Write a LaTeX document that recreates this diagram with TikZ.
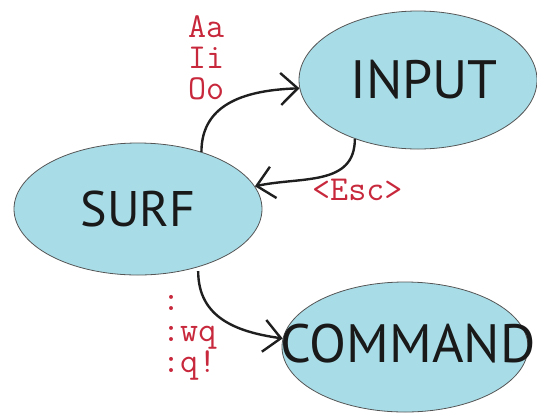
\documentclass[tikz,border=0pt]{standalone}
\usepackage{fontspec}
\setmainfont{PT Sans}
\usetikzlibrary{shapes.geometric,arrows.meta}
\definecolor{bub}{HTML}{A8DDE8}
\definecolor{lab}{HTML}{C8283C}
\definecolor{edge}{HTML}{555555}
\tikzset{
  state/.style={ellipse, draw=edge, line width=0.8pt, fill=bub, inner sep=0pt},
  stxt/.style={text=black!90, inner sep=0pt},
  arr/.style={line width=2.4pt, draw=black!88, -{Straight Barb[length=17pt,width=32pt,line width=2.4pt]}},
  keys/.style={text=lab, font=\ttfamily\fontsize{35}{31}\selectfont, align=left, inner sep=0pt}
}
\begin{document}
\begin{tikzpicture}[x=1pt,y=-1pt]
\useasboundingbox (0,0) rectangle (537,413);
\node[state, minimum width=248pt, minimum height=132pt,
  label={[stxt, font=\fontsize{50}{50}\selectfont]center:SURF}] (surf) at (138,209) {};
\node[state, minimum width=238pt, minimum height=138pt,
  label={[stxt, font=\fontsize{54}{54}\selectfont, xshift=6pt]center:INPUT}] (input) at (418,80) {};
\node[state, minimum width=246pt, minimum height=130pt,
  label={[stxt, font=\fontsize{54}{54}\selectfont, xshift=3pt, yshift=3pt]center:COMMAND}] (command) at (405,347) {};
\draw[arr] (surf.42) to[out=90,in=182,looseness=1.1] (input.184);
\draw[arr] (input.223) to[out=-90,in=12,looseness=1.1] (surf.11);
\draw[arr] ([yshift=-4pt]surf.-44) to[out=-90,in=172,looseness=1.1] (command.176);
\node[keys, anchor=north west] (vowels) at (188,15) {Aa\\Ii\\Oo};
\node[keys, anchor=west] (esc) at (312,190) {<Esc>};
\node[keys, anchor=north west] (quit) at (162,295) {:\\:wq\\:q!};
\end{tikzpicture}
\end{document}
